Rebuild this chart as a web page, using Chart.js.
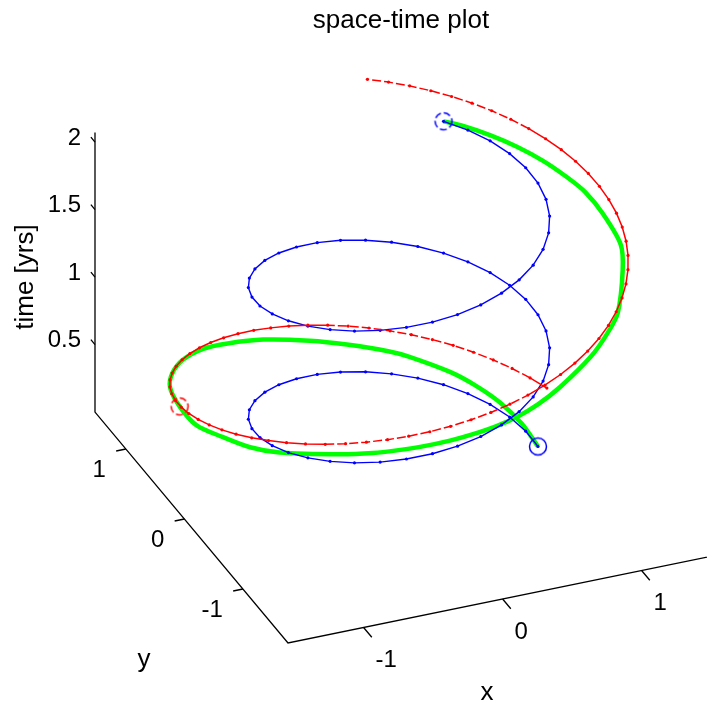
<!DOCTYPE html>
<html>
<head>
<meta charset="utf-8">
<title>space-time plot</title>
<script src="https://cdn.jsdelivr.net/npm/chart.js@4.4.0/dist/chart.umd.min.js"></script>
<style>
  html, body { margin: 0; padding: 0; background: #fff; }
  #plot { display: block; }
</style>
</head>
<body>
<canvas id="plot" width="707" height="704"></canvas>
<script>
// sample times shared by both planets [yrs]
const tYears = [
  0, 0.027, 0.054, 0.081, 0.108, 0.136, 0.163, 0.190, 0.217, 0.244,
  0.271, 0.298, 0.325, 0.352, 0.379, 0.407, 0.434, 0.461, 0.488, 0.515,
  0.542, 0.569, 0.596, 0.623, 0.650, 0.678, 0.705, 0.732, 0.759, 0.786,
  0.813, 0.840, 0.867, 0.894, 0.921, 0.949, 0.976, 1.003, 1.030, 1.057,
  1.084, 1.111, 1.138, 1.165, 1.192, 1.220, 1.247, 1.274, 1.301, 1.328,
  1.355, 1.382, 1.409, 1.436, 1.463, 1.491, 1.518, 1.545, 1.572, 1.599,
  1.626, 1.653, 1.680, 1.707, 1.734, 1.762, 1.789, 1.816, 1.843, 1.870,
  1.897, 1.924, 1.951, 1.978, 2.005, 2.033, 2.060, 2.087
];

// heliocentric longitude [deg] at each sample
const earthDeg = [
  0, 10, 20, 30, 40, 50, 60, 70, 80, 90,
  100, 110, 120, 130, 140, 150, 160, 170, 180, 190,
  200, 210, 220, 230, 240, 250, 260, 270, 280, 290,
  300, 310, 320, 330, 340, 350, 360, 370, 380, 390,
  400, 410, 420, 430, 440, 450, 460, 470, 480, 490,
  500, 510, 520, 530, 540, 550, 560, 570, 580, 590,
  600, 610, 620, 630, 640, 650, 660, 670, 680, 690,
  700, 710, 720, 730, 740, 750, 760, 770
];
const marsDeg = [
  27, 32.3, 37.6, 42.9, 48.2, 53.5, 58.8, 64.1, 69.4, 74.7,
  80.0, 85.3, 90.6, 95.9, 101.2, 106.5, 111.8, 117.1, 122.4, 127.7,
  133.0, 138.3, 143.6, 148.9, 154.2, 159.5, 164.8, 170.1, 175.4, 180.7,
  186.0, 191.3, 196.6, 201.9, 207.2, 212.5, 217.8, 223.1, 228.4, 233.7,
  239.0, 244.3, 249.6, 254.9, 260.2, 265.5, 270.8, 276.1, 281.4, 286.7,
  292.0, 297.3, 302.6, 307.9, 313.2, 318.5, 323.8, 329.1, 334.4, 339.7,
  345.0, 350.3, 355.6, 360.9, 366.2, 371.5, 376.8, 382.1, 387.4, 392.7,
  398.0, 403.3, 408.6, 413.9, 419.2, 424.5, 429.8, 435.1
];
const EARTH_R = 1.0;
const MARS_R = 1.52;

// spacecraft: out to Mars and back to Earth
const shipT = [
  0, 0.055, 0.11, 0.16, 0.206, 0.27, 0.30, 0.362, 0.413, 0.472,
  0.519, 0.553, 0.596, 0.638, 0.681, 0.745, 0.758, 0.808, 0.835, 0.874,
  0.961, 0.996, 1.022, 1.048, 1.075, 1.099, 1.125, 1.148, 1.187, 1.245,
  1.319, 1.372, 1.402, 1.487, 1.60, 1.762, 1.813, 1.85, 1.90, 1.95,
  2.00, 2.05, 2.087
];
const shipR = [
  1.0, 1.005, 1.02, 1.035, 1.056, 1.085, 1.10, 1.13, 1.19, 1.30,
  1.39, 1.46, 1.50, 1.515, 1.52, 1.52, 1.52, 1.51, 1.505, 1.50,
  1.50, 1.50, 1.50, 1.50, 1.50, 1.50, 1.50, 1.495, 1.495, 1.495,
  1.49, 1.49, 1.49, 1.485, 1.485, 1.39, 1.34, 1.29, 1.23, 1.17,
  1.11, 1.05, 1.0
];
const shipDeg = [
  0, 13, 26, 37.6, 48.5, 63.5, 70.5, 85, 97, 111,
  122, 130, 140, 150, 160, 174, 185, 196.3, 206.2, 215.3,
  232, 240.6, 246.6, 253.2, 260.2, 266.3, 272.9, 278.7, 285.1, 292.9,
  305.7, 315.5, 324, 340, 345.3, 351, 360, 367, 376, 385,
  394, 403, 410
];

// launch from Earth, arrival at Mars, return to Earth
const eventT = [0, 0.745, 2.087];
const eventR = [1.0, 1.52, 1.0];
const eventDeg = [0, 174, 410];

// axis limits and ticks
const xLim = [-1.544, 1.7];
const yLim = [-1.771, 1.528];
const tLim = [0, 2.07];
const xTicks = [-1, 0, 1];
const yTicks = [-1, 0, 1];
const tTicks = [0.5, 1, 1.5, 2];
const xTickLabels = ['-1', '0', '1'];
const yTickLabels = ['-1', '0', '1'];
const tTickLabels = ['0.5', '1', '1.5', '2'];

// orthographic 3-D view, screen px per data unit
const view = { ox: 399, oy: 475, ex: [139, -28.5], ey: [-58.5, -70], ez: 135 };

function project(x, y, t) {
  return {
    x: view.ox + x * view.ex[0] + y * view.ey[0],
    y: view.oy + x * view.ex[1] + y * view.ey[1] - t * view.ez
  };
}
function polar(r, deg, t) {
  const a = deg * Math.PI / 180;
  return project(r * Math.cos(a), r * Math.sin(a), t);
}

const earthPts = tYears.map((t, i) => polar(EARTH_R, earthDeg[i], t));
const marsPts = tYears.map((t, i) => polar(MARS_R, marsDeg[i], t));
const shipPts = shipT.map((t, i) => polar(shipR[i], shipDeg[i], t));
const eventPts = eventT.map((t, i) => polar(eventR[i], eventDeg[i], t));

// box edges: z axis, y axis, x axis as one polyline
const axisPts = [
  project(xLim[0], yLim[1], tLim[1]),
  project(xLim[0], yLim[1], tLim[0]),
  project(xLim[0], yLim[0], tLim[0]),
  project(xLim[1], yLim[0], tLim[0])
];
const GAP = { x: null, y: null };
const tickPts = [];
xTicks.forEach(v => tickPts.push(project(v, yLim[0], 0), project(v, yLim[0] - 0.14, 0), GAP));
yTicks.forEach(v => tickPts.push(project(xLim[0], v, 0), project(xLim[0] - 0.07, v, 0), GAP));
tTicks.forEach(v => tickPts.push(project(xLim[0], yLim[1], v), project(xLim[0], yLim[1] + 0.07, v), GAP));

function ring(color, dash) {
  const c = document.createElement('canvas');
  c.width = 22; c.height = 22;
  const g = c.getContext('2d');
  g.strokeStyle = color;
  g.lineWidth = 1.5;
  g.setLineDash(dash);
  g.beginPath();
  g.arc(11, 11, 8.5, 0, Math.PI * 2);
  g.stroke();
  return c;
}
const eventStyles = [ring('#0000ff', []), ring('#ff0000', [7, 3]), ring('#0000ff', [7, 3])];

const FONT = '"Liberation Sans", Arial, Helvetica, sans-serif';

const axisText = {
  id: 'axisText',
  afterDraw(chart) {
    const ctx = chart.ctx;
    const sx = chart.scales.x, sy = chart.scales.y;
    const pix = p => ({ x: sx.getPixelForValue(p.x), y: sy.getPixelForValue(p.y) });
    ctx.save();
    ctx.fillStyle = '#000';

    ctx.font = '24px ' + FONT;
    ctx.textBaseline = 'middle';
    ctx.textAlign = 'right';
    tTicks.forEach((v, i) => {
      const p = pix(project(xLim[0], yLim[1], v));
      ctx.fillText(tTickLabels[i], p.x - 14, p.y - 4);
    });
    yTicks.forEach((v, i) => {
      const p = pix(project(xLim[0], v, 0));
      ctx.fillText(yTickLabels[i], p.x - 20, p.y + 21);
    });
    ctx.textAlign = 'left';
    xTicks.forEach((v, i) => {
      const p = pix(project(v, yLim[0], 0));
      ctx.fillText(xTickLabels[i], p.x + 12, p.y + 33);
    });

    ctx.font = '26px ' + FONT;
    ctx.textAlign = 'center';
    ctx.fillText('x', 487, 693);
    ctx.fillText('y', 144, 660);
    ctx.textBaseline = 'alphabetic';
    ctx.fillText('space-time plot', 401, 28);

    ctx.translate(26, 277);
    ctx.rotate(-Math.PI / 2);
    ctx.textBaseline = 'middle';
    ctx.fillText('time [yrs]', 0, 0);
    ctx.restore();
  }
};

// long screen segments of the Mars track are drawn dashed
const segLen = s => Math.hypot(s.p1.x - s.p0.x, s.p1.y - s.p0.y);

new Chart(document.getElementById('plot'), {
  type: 'scatter',
  data: {
    datasets: [
      {
        label: 'events',
        data: eventPts,
        showLine: false,
        pointStyle: eventStyles,
        pointRadius: 8
      },
      {
        label: 'Mars',
        data: marsPts,
        showLine: true,
        borderColor: '#ff0000',
        borderWidth: 1.5,
        pointRadius: 1.6,
        pointBorderWidth: 0,
        pointBackgroundColor: '#ff0000',
        segment: {
          borderDash: s => (segLen(s) > 20 ? [9, 3] : undefined)
        }
      },
      {
        label: 'Earth',
        data: earthPts,
        showLine: true,
        borderColor: '#0000ff',
        borderWidth: 1.4,
        pointRadius: 1.6,
        pointBorderWidth: 0,
        pointBackgroundColor: '#0000ff'
      },
      {
        label: 'spacecraft',
        data: shipPts,
        showLine: true,
        borderColor: '#00ff00',
        borderWidth: 4.5,
        tension: 0.3,
        pointRadius: 0
      },
      {
        label: 'ticks',
        data: tickPts,
        showLine: true,
        spanGaps: false,
        borderColor: '#000',
        borderWidth: 1.3,
        pointRadius: 0
      },
      {
        label: 'axes',
        data: axisPts,
        showLine: true,
        borderColor: '#000',
        borderWidth: 1.3,
        pointRadius: 0
      }
    ]
  },
  options: {
    responsive: false,
    animation: false,
    devicePixelRatio: 1,
    layout: { padding: 0, autoPadding: false },
    elements: { line: { tension: 0 } },
    scales: {
      x: { type: 'linear', min: 0, max: 707, display: false },
      y: { type: 'linear', min: 0, max: 704, reverse: true, display: false }
    },
    plugins: {
      legend: { display: false },
      tooltip: { enabled: false }
    }
  },
  plugins: [axisText]
});
</script>
</body>
</html>
